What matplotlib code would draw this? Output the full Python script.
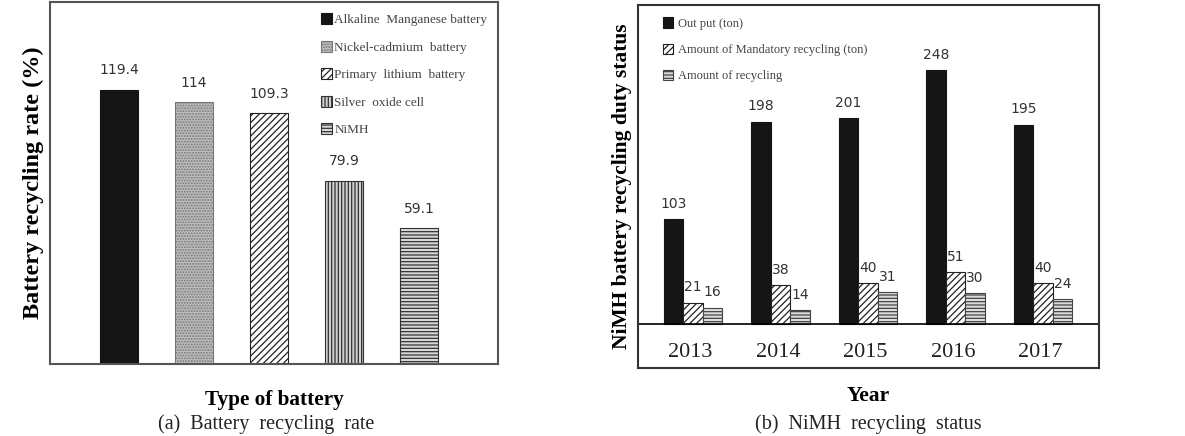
import matplotlib
matplotlib.use("Agg")
import matplotlib.pyplot as plt

# Dane (a)
battery_types = ["Alkaline  Manganese battery", "Nickel-cadmium  battery",
                 "Primary  lithium  battery", "Silver  oxide cell", "NiMH"]
recycling_rate = [119.4, 114, 109.3, 79.9, 59.1]

# Dane (b)
years = ["2013", "2014", "2015", "2016", "2017"]
output_ton = [103, 198, 201, 248, 195]
mandatory_ton = [21, 38, 40, 51, 40]
recycled_ton = [16, 14, 31, 30, 24]
series_b = ["Out put (ton)", "Amount of Mandatory recycling (ton)", "Amount of recycling"]

plt.rcParams['hatch.linewidth'] = 0.9
serif = "Liberation Serif"
num_font = "DejaVu Sans"

fig = plt.figure(figsize=(11.85, 4.36), dpi=100)

# ---- (a) ----
ax1 = fig.add_axes([0.0422, 0.165, 0.378, 0.830])
faces = ["#151515", "#bdbdbd", "white", "#d0d0d0", "#d8d8d8"]
hatches = [None, "......", "/////", "|||||", "-----"]
edges = ["#151515", "#777777", "#222222", "#333333", "#333333"]
for i, v in enumerate(recycling_rate):
    ax1.bar(i, v, width=0.507, color=faces[i], hatch=hatches[i],
            edgecolor=edges[i], linewidth=0.8, label=battery_types[i])
    ax1.text(i, v + 5.5, f"{v:g}", ha="center", va="bottom",
             fontsize=10, family=num_font, color="#333333")
ax1.set_xlim(-0.92, 5.05)
ax1.set_ylim(0, 157.7)
ax1.set_xticks([])
ax1.set_yticks([])
for s in ax1.spines.values():
    s.set_linewidth(1.5)
    s.set_color("#555555")
ax1.set_ylabel("Battery recycling rate (%)", fontsize=17.5, fontweight="bold",
               family=serif, labelpad=4)
ax1.set_xlabel("Type of battery", fontsize=15.3, fontweight="bold",
               family=serif, labelpad=19)
leg1 = ax1.legend(loc="upper left", bbox_to_anchor=(0.585, 0.995), frameon=False,
                  prop={"family": serif, "size": 9.5}, handlelength=0.8,
                  handleheight=0.9, handletextpad=0.2, labelspacing=1.1,
                  borderpad=0.2)
for t in leg1.get_texts():
    t.set_color("#444444")

# ---- (b) ----
ax2 = fig.add_axes([0.5384, 0.156, 0.389, 0.8326])
w = 0.223
xs = list(range(len(years)))
b_faces = ["#151515", "white", "#dcdcdc"]
b_hatch = [None, "/////", "-----"]
b_edges = ["#151515", "#222222", "#444444"]
for k, vals in enumerate([output_ton, mandatory_ton, recycled_ton]):
    pos = [x + (k - 1) * w for x in xs]
    ax2.bar(pos, vals, width=w, color=b_faces[k], hatch=b_hatch[k],
            edgecolor=b_edges[k], linewidth=0.8, label=series_b[k])
    for p, v in zip(pos, vals):
        ax2.text(p, v + 8, str(v), ha="center", va="bottom",
                 fontsize=10, family=num_font, color="#333333")
ax2.axhline(0, color="black", linewidth=1.2)
ax2.set_xlim(-0.63, 4.64)
ax2.set_ylim(-43, 312)
ax2.set_xticks([])
ax2.set_yticks([])
for s in ax2.spines.values():
    s.set_linewidth(1.5)
    s.set_color("#333333")
for x, y in zip(xs, years):
    ax2.text(x - 0.03, -28, y, ha="center", va="center", fontsize=16,
             family=serif, color="#222222")
ax2.set_ylabel("NiMH battery recycling duty status", fontsize=15.5,
               fontweight="bold", family=serif, labelpad=4)
ax2.set_xlabel("Year", fontsize=15.5, fontweight="bold", family=serif, labelpad=13)
leg2 = ax2.legend(loc="upper left", bbox_to_anchor=(0.035, 0.99), frameon=False,
                  prop={"family": serif, "size": 9}, handlelength=0.8,
                  handleheight=0.9, handletextpad=0.4, labelspacing=1.1,
                  borderpad=0.2)
for t in leg2.get_texts():
    t.set_color("#444444")

# Podpisy
fig.text(0.2245, 0.004, "(a)  Battery  recycling  rate", ha="center", va="bottom",
         fontsize=14.5, family=serif, color="#222222")
fig.text(0.7325, 0.004, "(b)  NiMH  recycling  status", ha="center", va="bottom",
         fontsize=14.5, family=serif, color="#222222")

fig.savefig("out.png", dpi=100)
